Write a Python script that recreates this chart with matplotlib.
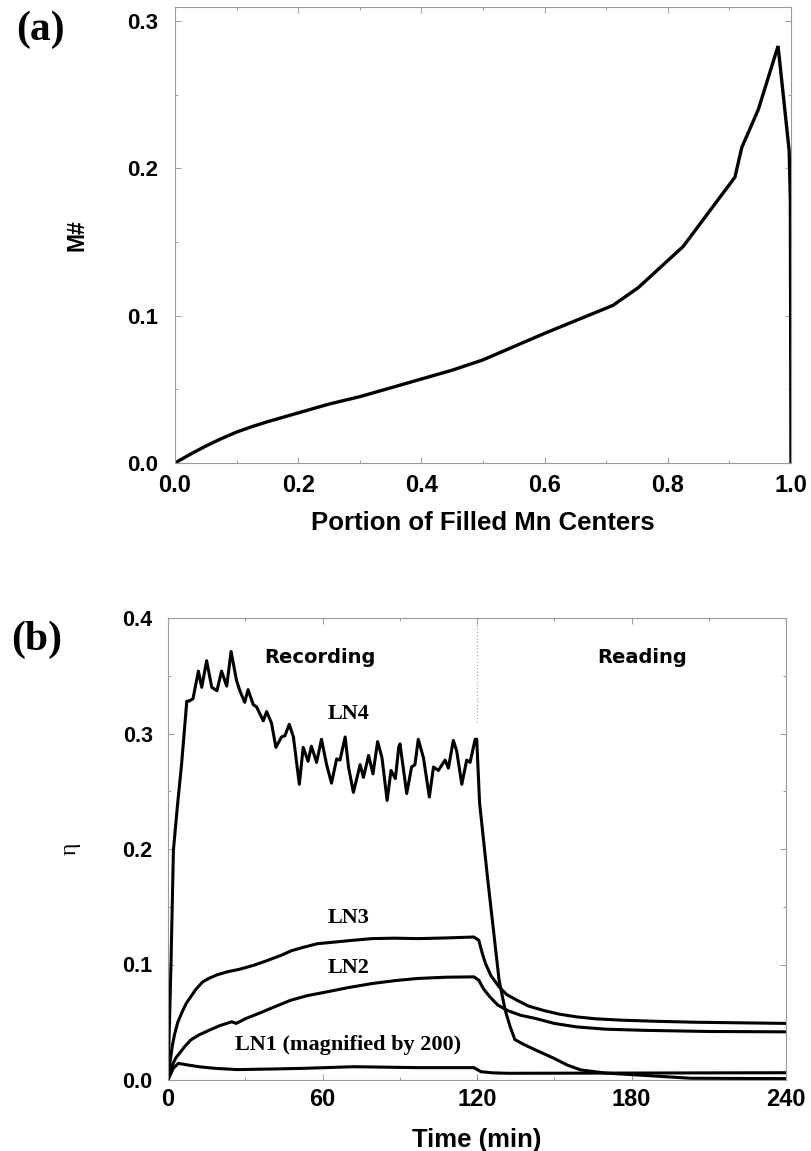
import matplotlib
matplotlib.use("Agg")
import matplotlib.pyplot as plt
from matplotlib.ticker import MultipleLocator

plt.rcParams['font.family'] = ['Liberation Sans', 'DejaVu Sans']

# panel (a): M# vs portion of filled Mn centers
fill_portion = [0.0, 0.025, 0.05, 0.075, 0.10, 0.125, 0.15, 0.175, 0.20, 0.25, 0.30, 0.35,
                0.40, 0.45, 0.50, 0.60, 0.711, 0.752, 0.825, 0.909, 0.920, 0.947, 0.979,
                0.997, 0.999, 1.0]
m_number = [0.0, 0.006, 0.0115, 0.0165, 0.021, 0.0247, 0.028, 0.031, 0.034, 0.040, 0.045,
            0.051, 0.057, 0.063, 0.070, 0.088, 0.107, 0.119, 0.147, 0.194, 0.214, 0.240,
            0.283, 0.212, 0.178, 0.0]

# panel (b): diffraction efficiency vs time
t_ln4 = [0, 1.2, 2.1, 3.6, 5.3, 7.3, 8.0, 9.7, 11.8, 13.1, 15.0, 17.0, 19.0, 20.8, 22.8,
         24.5, 26.6, 27.9, 29.8, 31.1, 33.1, 34.4, 37.0, 38.3, 40.2, 41.9, 44.1, 45.4,
         47.1, 48.7, 51.0, 52.5, 54.4, 55.7, 57.7, 59.6, 61.6, 63.5, 65.5, 66.8, 68.8,
         70.1, 72.0, 74.6, 75.9, 77.9, 79.6, 81.4, 83.1, 85.1, 86.6, 88.3, 89.6, 90.1,
         92.7, 94.6, 95.9, 97.2, 99.2, 101.5, 103.1, 105.0, 107.6, 108.9, 110.8, 112.1,
         114.1, 116.0, 117.3, 119.3, 119.9, 121.0, 124.0, 128.6, 131.0, 132.9, 134.7,
         138.0, 142.7, 149.7, 155.0, 160.3, 170.0, 185.0, 203.0, 240.0]
eta_ln4 = [0, 0.104, 0.199, 0.236, 0.274, 0.328, 0.328, 0.330, 0.354, 0.340, 0.363, 0.340,
           0.337, 0.354, 0.341, 0.371, 0.346, 0.337, 0.327, 0.338, 0.325, 0.323, 0.311,
           0.319, 0.309, 0.288, 0.297, 0.298, 0.308, 0.297, 0.256, 0.288, 0.276, 0.289,
           0.275, 0.295, 0.273, 0.257, 0.278, 0.277, 0.297, 0.271, 0.249, 0.273, 0.262,
           0.281, 0.265, 0.293, 0.279, 0.242, 0.268, 0.261, 0.288, 0.291, 0.248, 0.271,
           0.273, 0.295, 0.279, 0.245, 0.271, 0.268, 0.277, 0.270, 0.294, 0.285, 0.256,
           0.277, 0.275, 0.295, 0.295, 0.240, 0.177, 0.086, 0.060, 0.046, 0.035, 0.031,
           0.026, 0.019, 0.013, 0.0087, 0.006, 0.004, 0.0015, 0.0012]

t_ln3 = [0, 0.5, 0.9, 1.7, 2.6, 3.8, 5.3, 7.0, 8.8, 11.0, 13.5, 15.9, 19.0, 22.9, 28.0,
         33.4, 38.0, 44.0, 48.0, 52.8, 58.0, 65.1, 72.0, 79.2, 88.0, 96.9, 108.0, 118.8,
         120.7, 122.0, 123.3, 125.5, 128.6, 131.5, 135.6, 140.0, 146.2, 152.0, 158.5,
         166.0, 176.1, 190.0, 205.0, 240.0]
eta_ln3 = [0, 0.010, 0.017, 0.030, 0.040, 0.050, 0.058, 0.066, 0.072, 0.079, 0.085, 0.088,
           0.091, 0.0936, 0.096, 0.0994, 0.103, 0.108, 0.112, 0.115, 0.118, 0.1195, 0.121,
           0.1224, 0.1228, 0.1224, 0.123, 0.1238, 0.121, 0.110, 0.1008, 0.090, 0.0806,
           0.074, 0.069, 0.064, 0.060, 0.057, 0.0547, 0.053, 0.0518, 0.0508, 0.050, 0.049]

t_ln2 = [0, 1.0, 2.0, 3.0, 4.4, 6.5, 8.8, 12.0, 15.9, 20.0, 24.7, 26.5, 30.0, 35.2, 41.0,
         47.6, 54.0, 61.7, 70.0, 79.2, 88.0, 96.9, 108.0, 118.8, 120.7, 122.5, 125.0,
         128.0, 132.0, 137.0, 142.7, 150.0, 158.5, 170.0, 185.0, 210.0, 240.0]
eta_ln2 = [0, 0.008, 0.0144, 0.019, 0.023, 0.029, 0.0346, 0.039, 0.043, 0.047, 0.0504,
           0.049, 0.053, 0.0576, 0.063, 0.069, 0.073, 0.0763, 0.080, 0.0835, 0.086, 0.0879,
           0.089, 0.0893, 0.0864, 0.079, 0.072, 0.065, 0.060, 0.056, 0.0533, 0.049, 0.046,
           0.044, 0.043, 0.042, 0.0417]

t_ln1 = [0, 2.0, 4.0, 7.7, 12.0, 18.2, 27.0, 40.0, 52.8, 72.0, 96.9, 118.8, 121.5, 126.0,
         132.0, 240.0]
eta_ln1 = [0, 0.010, 0.0144, 0.013, 0.0115, 0.0101, 0.009, 0.0095, 0.0101, 0.0115, 0.0107,
           0.0107, 0.0072, 0.0062, 0.0058, 0.0063]

W, H = 811, 1151
fig = plt.figure(figsize=(W / 100, H / 100), dpi=100)


def px_rect(left, right, top, bottom):
    return [left / W, 1 - bottom / H, (right - left) / W, (bottom - top) / H]


def style_axes(ax):
    for sp in ax.spines.values():
        sp.set_color('#9a9a9a')
        sp.set_linewidth(0.8)
    ax.tick_params(which='both', direction='in', top=True, right=True,
                   color='#9a9a9a', width=0.7)
    ax.tick_params(which='major', length=4)
    ax.tick_params(which='minor', length=2.5)


#PANEL (a)
ax1 = fig.add_axes(px_rect(175, 791, 7, 463))
ax1.plot(fill_portion, m_number, color='black', lw=2.4, solid_joinstyle='miter')
ax1.set_xlim(0, 1.0)
ax1.set_ylim(0, 0.3095)
ax1.xaxis.set_major_locator(MultipleLocator(0.2))
ax1.xaxis.set_minor_locator(MultipleLocator(0.1))
ax1.yaxis.set_major_locator(MultipleLocator(0.1))
ax1.yaxis.set_minor_locator(MultipleLocator(0.05))
ax1.xaxis.set_major_formatter(plt.FuncFormatter(lambda v, p: f"{v:.1f}"))
ax1.yaxis.set_major_formatter(plt.FuncFormatter(lambda v, p: f"{v:.1f}"))
style_axes(ax1)
ax1.tick_params(axis='x', which='major', pad=8, labelsize=17)
ax1.tick_params(axis='y', which='major', pad=12, labelsize=16)
for lbl in ax1.get_xticklabels() + ax1.get_yticklabels():
    lbl.set_fontweight('bold')
ax1.set_xlabel('Portion of Filled Mn Centers', fontsize=18.5, fontweight='bold', labelpad=10)
ax1.set_ylabel('M#', fontsize=16.5, fontweight='bold', labelpad=28)
fig.text(40 / W, 1 - 30 / H, '(a)', family='Liberation Serif', fontweight='bold',
         fontsize=30, ha='center', va='center')

#PANEL (b)
ax2 = fig.add_axes(px_rect(168, 786, 618, 1080))
ax2.plot([120, 120], [0.31, 0.4], color='#b0b0b0', lw=0.9, ls=':')
for t, e in [(t_ln4, eta_ln4), (t_ln3, eta_ln3), (t_ln2, eta_ln2), (t_ln1, eta_ln1)]:
    ax2.plot(t, e, color='black', lw=2.2)
ax2.set_xlim(0, 240)
ax2.set_ylim(0, 0.4)
ax2.xaxis.set_major_locator(MultipleLocator(60))
ax2.xaxis.set_minor_locator(MultipleLocator(30))
ax2.yaxis.set_major_locator(MultipleLocator(0.1))
ax2.yaxis.set_minor_locator(MultipleLocator(0.05))
ax2.yaxis.set_major_formatter(plt.FuncFormatter(lambda v, p: f"{v:.1f}"))
style_axes(ax2)
ax2.tick_params(axis='x', which='major', pad=6, labelsize=17)
ax2.tick_params(axis='y', which='major', pad=11, labelsize=15.5)
for lbl in ax2.get_xticklabels() + ax2.get_yticklabels():
    lbl.set_fontweight('bold')
ax2.set_xlabel('Time (min)', fontsize=18.5, fontweight='bold', labelpad=12)
ax2.set_ylabel('η', family='Liberation Serif', fontsize=17, labelpad=30)

ax2.text(59, 0.366, 'Recording', family='DejaVu Sans', fontweight='bold', fontsize=14,
         ha='center', va='center')
ax2.text(184, 0.366, 'Reading', family='DejaVu Sans', fontweight='bold', fontsize=14,
         ha='center', va='center')
serif = dict(family='Liberation Serif', fontweight='bold', fontsize=16, ha='center', va='center')
ax2.text(70, 0.317, 'LN4', **serif)
ax2.text(70, 0.140, 'LN3', **serif)
ax2.text(70, 0.097, 'LN2', **serif)
ax2.text(70, 0.030, 'LN1 (magnified by 200)', **serif)
fig.text(37 / W, 1 - 640 / H, '(b)', family='Liberation Serif', fontweight='bold',
         fontsize=30, ha='center', va='center')

fig.savefig('out.png', dpi=100)
